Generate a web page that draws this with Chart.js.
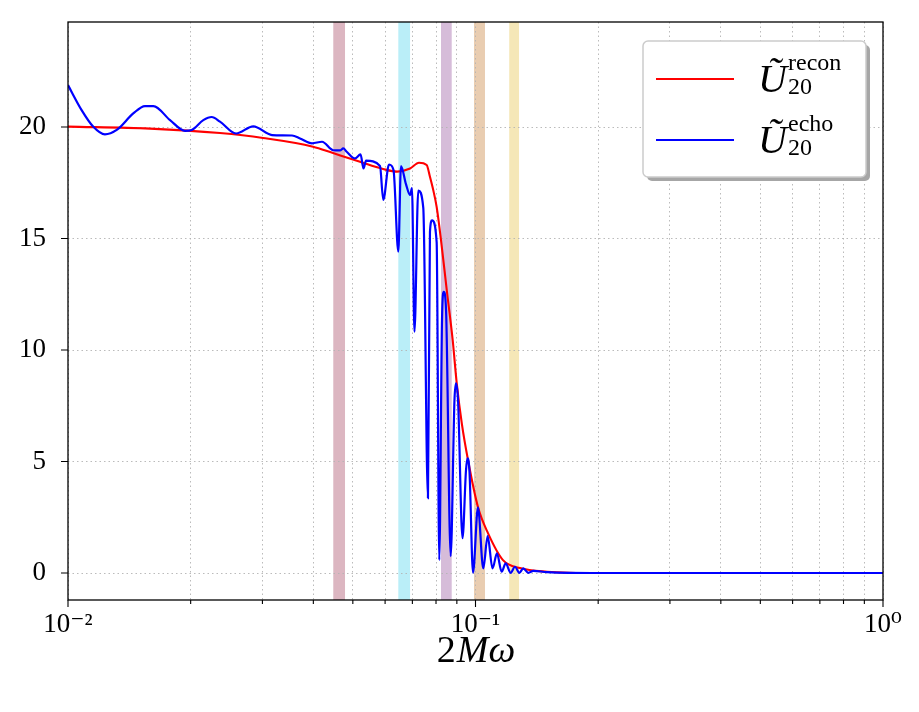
<!DOCTYPE html>
<html>
<head>
<meta charset="utf-8">
<script src="https://cdn.jsdelivr.net/npm/chart.js@4.4.1/dist/chart.umd.min.js"></script>
<style>
  body { margin: 0; background: #fff; }
  canvas { display: block; }
</style>
</head>
<body>
<canvas id="myChart" width="919" height="712"></canvas>
<script>
// values
var reconX = [0.0100, 0.01589, 0.02360, 0.03010, 0.03993, 0.04470, 0.05207, 0.05929, 0.06418, 0.06909,
  0.07267, 0.07588, 0.07731, 0.07877, 0.08029, 0.08229, 0.08501, 0.08790, 0.08993, 0.09266,
  0.09585, 0.1014, 0.1073, 0.1168, 0.1286, 0.1498, 0.2020, 1.0];
var reconY = [20.02, 19.93, 19.73, 19.51, 19.12, 18.83, 18.44, 18.12, 18.00, 18.14,
  18.40, 18.30, 17.77, 17.17, 16.42, 14.93, 12.69, 10.45, 8.52, 6.64,
  5.07, 2.96, 1.79, 0.58, 0.22, 0.06, 0.0, 0.0];

var echoX = [0.01000, 0.01080, 0.01154, 0.01232, 0.01317, 0.01446, 0.01545, 0.01620, 0.01780, 0.01937,
  0.02012, 0.02148, 0.02252, 0.02360, 0.02584, 0.02849, 0.03167, 0.03546, 0.03710, 0.03971,
  0.04201, 0.04477, 0.04650, 0.04738, 0.04830, 0.05062, 0.05222, 0.05312, 0.05387, 0.05829,
  0.05939, 0.06134, 0.06292, 0.06465, 0.06564, 0.06751, 0.06909, 0.06984, 0.07083, 0.07237,
  0.07445, 0.07644, 0.07731, 0.07821, 0.08029, 0.08149, 0.08276, 0.08356, 0.08467, 0.08691,
  0.08880, 0.08955, 0.09060, 0.09292, 0.09478, 0.09559, 0.09667, 0.09861, 0.1014, 0.1045,
  0.1071, 0.1101, 0.1129, 0.1159, 0.1186, 0.1220, 0.1250, 0.1281, 0.1310, 0.1348,
  0.1387, 0.1498, 0.2020, 1.0];
var echoY = [21.88, 20.76, 20.01, 19.67, 19.87, 20.61, 20.94, 20.94, 20.31, 19.83,
  19.87, 20.31, 20.45, 20.24, 19.71, 20.03, 19.64, 19.62, 19.49, 19.27,
  19.34, 18.96, 18.95, 19.04, 18.89, 18.59, 18.77, 18.14, 18.49, 18.25,
  16.73, 18.32, 18.07, 14.41, 18.25, 17.44, 16.95, 17.26, 10.82, 17.15,
  16.37, 3.36, 15.29, 15.81, 14.84, 0.58, 11.35, 12.61, 11.79, 0.76,
  7.76, 8.51, 7.76, 1.56, 4.62, 5.14, 4.53, 0.02, 2.94, 0.21,
  1.65, 0.21, 0.88, 0.06, 0.43, 0.01, 0.28, 0.01, 0.21, 0.01,
  0.10, 0.04, 0.0, 0.0];

// shaded frequency bands
var bandStart = [0.04477, 0.06465, 0.08229, 0.09915, 0.1210];
var bandEnd = [0.04784, 0.06909, 0.08742, 0.1055, 0.1279];
var bandColors = ['#dcb6c1', '#baeef8', '#d6bcd9', '#e9cdb1', '#f5e7b7'];

var yTicks = [0, 5, 10, 15, 20];
var xTicks = [0.01, 0.02, 0.03, 0.04, 0.05, 0.06, 0.07, 0.08, 0.09,
  0.1, 0.2, 0.3, 0.4, 0.5, 0.6, 0.7, 0.8, 0.9, 1];
var xTickLabels = { '0.01': '10⁻²', '0.1': '10⁻¹', '1': '10⁰' };

var serif = '"Liberation Serif", "DejaVu Serif", serif';

function toPoints(xs, ys) {
  return xs.map(function (x, i) { return { x: x, y: ys[i] }; });
}

var bgAndBands = {
  id: 'bgAndBands',
  beforeDraw: function (chart) {
    var ctx = chart.ctx, a = chart.chartArea, xs = chart.scales.x;
    ctx.save();
    ctx.fillStyle = '#fff';
    ctx.fillRect(0, 0, chart.width, chart.height);
    for (var i = 0; i < bandStart.length; i++) {
      var x0 = xs.getPixelForValue(bandStart[i]);
      var x1 = xs.getPixelForValue(bandEnd[i]);
      ctx.fillStyle = bandColors[i];
      ctx.fillRect(x0, a.top, x1 - x0, a.bottom - a.top);
    }
    ctx.restore();
  }
};

var frameAndLegend = {
  id: 'frameAndLegend',
  afterDraw: function (chart) {
    var ctx = chart.ctx, a = chart.chartArea;
    var xs = chart.scales.x, ys = chart.scales.y;
    ctx.save();
    // frame
    ctx.strokeStyle = '#000';
    ctx.lineWidth = 1.3;
    ctx.strokeRect(a.left, a.top, a.right - a.left, a.bottom - a.top);
    // tick marks
    ctx.lineWidth = 1.1;
    ctx.beginPath();
    xTicks.forEach(function (v) {
      var px = xs.getPixelForValue(v);
      var major = xTickLabels[String(v)] !== undefined;
      ctx.moveTo(px, a.bottom);
      ctx.lineTo(px, a.bottom + (major ? 7 : 4));
    });
    yTicks.forEach(function (v) {
      var py = ys.getPixelForValue(v);
      ctx.moveTo(a.left, py);
      ctx.lineTo(a.left - 7, py);
    });
    ctx.stroke();

    // x axis title 2Mω
    ctx.fillStyle = '#000';
    ctx.textBaseline = 'alphabetic';
    var f1 = '38px ' + serif, f2 = 'italic 38px ' + serif;
    ctx.font = f1; var w1 = ctx.measureText('2').width;
    ctx.font = f2; var w2 = ctx.measureText('Mω').width;
    var cx = (a.left + a.right) / 2, start = cx - (w1 + w2) / 2;
    ctx.font = f1; ctx.fillText('2', start, 662);
    ctx.font = f2; ctx.fillText('Mω', start + w1 + 1, 662);

    // legend box with shadow
    var bx = 643, by = 41, bw = 223, bh = 136, r = 5;
    function rounded(x, y, w, h) {
      ctx.beginPath();
      ctx.moveTo(x + r, y);
      ctx.arcTo(x + w, y, x + w, y + h, r);
      ctx.arcTo(x + w, y + h, x, y + h, r);
      ctx.arcTo(x, y + h, x, y, r);
      ctx.arcTo(x, y, x + w, y, r);
      ctx.closePath();
    }
    ctx.fillStyle = '#a6a6a6';
    rounded(bx + 4, by + 4, bw, bh); ctx.fill();
    ctx.fillStyle = '#fff';
    rounded(bx, by, bw, bh); ctx.fill();
    ctx.strokeStyle = '#cccccc'; ctx.lineWidth = 1.5;
    rounded(bx, by, bw, bh); ctx.stroke();

    var entries = [
      { color: '#ff0000', sup: 'recon', lineY: 79, base: 92 },
      { color: '#0000ff', sup: 'echo', lineY: 140, base: 153 }
    ];
    entries.forEach(function (e) {
      ctx.strokeStyle = e.color; ctx.lineWidth = 2.2;
      ctx.beginPath(); ctx.moveTo(656, e.lineY); ctx.lineTo(734, e.lineY); ctx.stroke();
      ctx.fillStyle = '#000';
      ctx.font = 'italic 40px ' + serif;
      ctx.fillText('Ũ', 758, e.base);
      ctx.font = '24px ' + serif;
      ctx.fillText(e.sup, 788, e.base - 22);
      ctx.fillText('20', 788, e.base + 2);
    });
    ctx.restore();
  }
};

var ctx = document.getElementById('myChart').getContext('2d');
var myChart = new Chart(ctx, {
  type: 'line',
  data: {
    datasets: [
      {
        label: 'recon',
        data: toPoints(reconX, reconY),
        borderColor: '#ff0000',
        borderWidth: 2.1,
        pointRadius: 0,
        fill: false,
        order: 2,
        cubicInterpolationMode: 'monotone'
      },
      {
        label: 'echo',
        data: toPoints(echoX, echoY),
        borderColor: '#0000ff',
        borderWidth: 2.2,
        pointRadius: 0,
        fill: false,
        order: 1,
        cubicInterpolationMode: 'monotone'
      }
    ]
  },
  options: {
    responsive: false,
    devicePixelRatio: 1,
    animation: false,
    layout: { padding: { top: 22, right: 36, left: 0, bottom: 0 } },
    plugins: {
      legend: { display: false },
      tooltip: { enabled: false },
      title: { display: false }
    },
    scales: {
      x: {
        type: 'logarithmic',
        min: 0.01,
        max: 1,
        afterBuildTicks: function (scale) {
          scale.ticks = xTicks.map(function (v) { return { value: v }; });
        },
        afterFit: function (scale) {
          scale.height = 112;
          scale.paddingLeft = 0;
          scale.paddingRight = 0;
        },
        grid: { color: '#b3b3b3', lineWidth: 0.9, drawTicks: false },
        border: { display: false, dash: [1.5, 3] },
        ticks: {
          autoSkip: false,
          maxRotation: 0,
          padding: 9,
          color: '#000',
          font: { family: serif, size: 27 },
          callback: function (v) {
            var lab = xTickLabels[String(v)];
            return lab === undefined ? '' : lab;
          }
        }
      },
      y: {
        min: -1.21,
        max: 24.71,
        afterBuildTicks: function (scale) {
          scale.ticks = yTicks.map(function (v) { return { value: v }; });
        },
        afterFit: function (scale) {
          scale.width = 68;
          scale.paddingTop = 0;
          scale.paddingBottom = 0;
        },
        grid: { color: '#b3b3b3', lineWidth: 0.9, drawTicks: false },
        border: { display: false, dash: [1.5, 3] },
        ticks: {
          padding: 22,
          color: '#000',
          font: { family: serif, size: 27 }
        }
      }
    }
  },
  plugins: [bgAndBands, frameAndLegend]
});
</script>
</body>
</html>
